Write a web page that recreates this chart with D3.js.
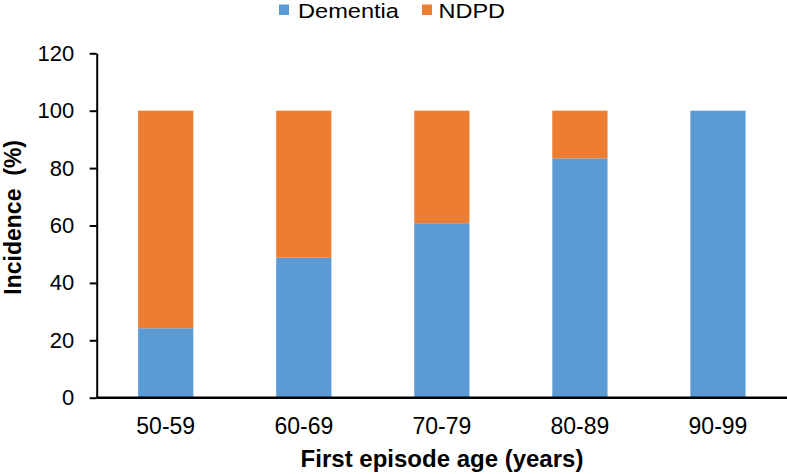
<!DOCTYPE html>
<html><head><meta charset="utf-8">
<script src="https://cdn.jsdelivr.net/npm/d3@7"></script>
<style>body{margin:0;background:#fff}svg{display:block}text{font-family:"Liberation Sans",Arial,sans-serif;fill:#000}</style>
</head><body><svg id="c" width="787" height="474"></svg>
<script>
const categories = ["50-59","60-69","70-79","80-89","90-99"];
const dementia = [24.2, 48.8, 60.8, 83.4, 100];
const ndpd = [75.8, 51.2, 39.2, 16.6, 0];
const seriesNames = ["Dementia","NDPD"];
const colors = ["#5B9BD5","#ED7D31"];
const yTicks = [0,20,40,60,80,100,120];

const svg = d3.select("#c");
const x = d3.scaleBand().domain(categories).range([96.7, 787]).paddingInner(0.6).paddingOuter(0.3);
const y = d3.scaleLinear().domain([0,120]).range([397.7, 53.3]);

const data = categories.map((c,i)=>({cat:c, Dementia:dementia[i], NDPD:ndpd[i]}));
const stack = d3.stack().keys(seriesNames)(data);

svg.append("g").selectAll("g").data(stack).join("g")
  .attr("fill",(d,i)=>colors[i])
  .selectAll("rect").data(d=>d).join("rect")
  .attr("x",d=>x(d.data.cat)).attr("width",x.bandwidth())
  .attr("y",d=>y(d[1])).attr("height",d=>y(d[0])-y(d[1]));

// y axis
const ya = svg.append("g").attr("transform","translate(96.7,0)")
  .call(d3.axisLeft(y).tickValues(yTicks).tickSize(7).tickSizeOuter(0).tickPadding(15.5));
ya.select(".domain").attr("stroke","#000").attr("stroke-width",2);
ya.selectAll(".tick line").attr("stroke","#000").attr("stroke-width",2);
ya.selectAll(".tick text").style("font-size","22px").attr("fill","#000");

// x axis
const xa = svg.append("g").attr("transform","translate(0,397.7)")
  .call(d3.axisBottom(x).tickSize(0).tickPadding(20));
xa.select(".domain").attr("stroke","#000").attr("stroke-width",2.4).attr("d","M96.7,0H787");
xa.selectAll(".tick text").style("font-size","23px").attr("fill","#000");

// axis titles
svg.append("text").attr("x",442).attr("y",467).attr("text-anchor","middle")
  .style("font-size","24px").style("font-weight","bold").text("First episode age (years)");
svg.append("text").attr("transform","translate(20.5,140) rotate(-90)").attr("text-anchor","end")
  .style("font-size","23px").style("font-weight","bold").text("Incidence\u00a0\u00a0(%)");

// legend
const lg = svg.append("g");
const lx = [279, 422], tx = [298, 438.5], tw = [101, 66.5];
seriesNames.forEach((s,i)=>{
  lg.append("rect").attr("x",lx[i]).attr("y",4.5).attr("width",10).attr("height",10.5).attr("fill",colors[i]);
  lg.append("text").attr("x",tx[i]).attr("y",18).style("font-size","20.5px")
    .attr("textLength",tw[i]).attr("lengthAdjust","spacingAndGlyphs").text(s);
});
</script></body></html>
